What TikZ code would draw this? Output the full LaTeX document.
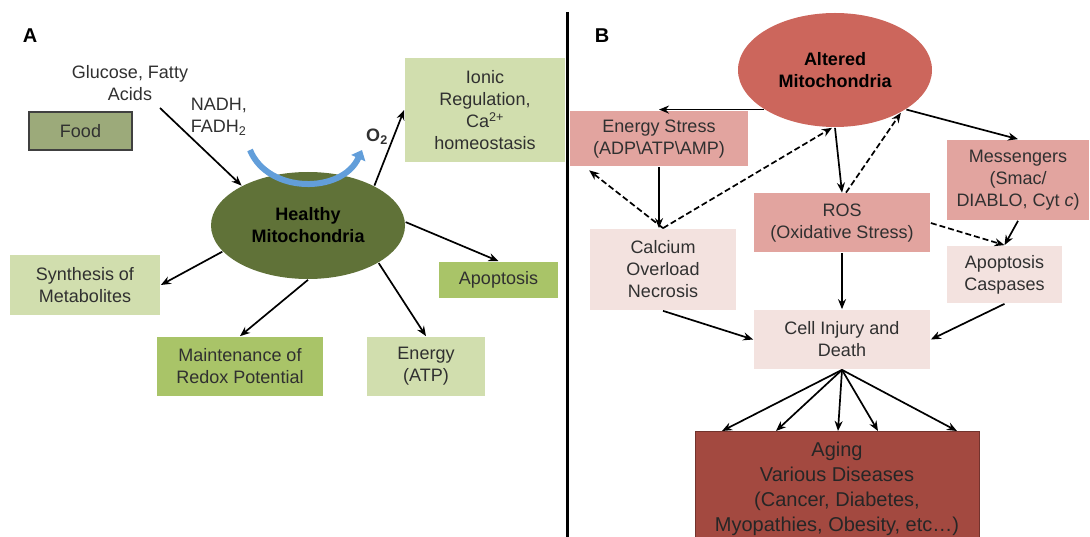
\documentclass[tikz,border=0pt]{standalone}
\usepackage{fontspec}
\setmainfont{Liberation Sans}
\usepackage{tikz}
\usetikzlibrary{calc,arrows.meta,shapes.geometric}
\definecolor{verdeclaro}{RGB}{209,222,174}
\definecolor{verdemedio}{RGB}{169,196,104}
\definecolor{verdecomida}{RGB}{156,170,122}
\definecolor{verdemito}{RGB}{96,114,56}
\definecolor{rojomito}{RGB}{204,102,92}
\definecolor{rosamedio}{RGB}{226,164,159}
\definecolor{rosaclaro}{RGB}{243,226,223}
\definecolor{rojoedad}{RGB}{163,73,64}
\definecolor{azulflecha}{RGB}{98,158,218}
\definecolor{textogris}{RGB}{48,48,48}

\begin{document}
\begin{tikzpicture}[x=1pt, y=-1pt, >={Stealth[length=10pt,width=8pt]}, line width=1.7pt,
    caja/.style={inner sep=0pt, align=center, text=textogris, font=\fontsize{18}{22}\selectfont},
    mito/.style={ellipse, inner sep=0pt, align=center, text=black, font=\fontsize{18}{22}\selectfont\bfseries},
    guion/.style={dash pattern=on 6pt off 3pt}]
    \useasboundingbox (0,0) rectangle (1090,537);
    % panel A
    \node[font=\fontsize{20}{24}\selectfont\bfseries] (letraA) at (30,36) {A};
    \node[caja] (glu) at (130,83) {Glucose, Fatty\\Acids};
    \node[caja, fill=verdecomida, draw=black!75, line width=1.5pt, minimum width=103, minimum height=38] (comida) at (80.5,131) {Food};
    \node[caja, align=left, anchor=west] (nadh) at (190,117) {NADH,\\FADH\textsubscript{2}};
    \node[mito, fill=verdemito, minimum width=194, minimum height=107] (hm) at (308,225.5) {Healthy\\Mitochondria};
    \node[caja, fill=verdeclaro, minimum width=160, minimum height=104] (ion) at (485,110) {Ionic\\Regulation,\\Ca\textsuperscript{2+}\\homeostasis};
    \node[font=\fontsize{18}{22}\selectfont\bfseries, text=textogris] (oxi) at (377,137) {O\textsubscript{2}};
    \node[caja, fill=verdeclaro, minimum width=150, minimum height=60] (syn) at (85,285) {Synthesis of\\Metabolites};
    \node[caja, fill=verdemedio, minimum width=119, minimum height=36] (apo) at (498.5,280) {Apoptosis};
    \node[caja, fill=verdemedio, minimum width=166, minimum height=59] (mnt) at (240,366.5) {Maintenance of\\Redox Potential};
    \node[caja, fill=verdeclaro, minimum width=118, minimum height=59] (en) at (426,366.5) {Energy\\(ATP)};
    \coordinate (gs) at (160,108);
    \draw[->] (gs) -- (hm.149);
    \draw[->] (hm.31) -- (ion.west);
    \draw[->] (hm.2) -- (apo.north);
    \draw[->] (hm.197) -- (syn.east);
    \draw[->] (hm.270) -- (mnt.north);
    \draw[->] (hm.332) -- (en.north);
    \draw[azulflecha, line width=6pt, -{Triangle[length=9pt,width=15pt]}] (250,150) .. controls (268,194) and (342,194) .. (362,150);
    \draw[line width=3pt] (567,12) -- (567,537);
    % panel B
    \node[font=\fontsize{20}{24}\selectfont\bfseries] (letraB) at (602,36) {B};
    \node[mito, fill=rojomito, minimum width=194, minimum height=114] (am) at (835,70) {Altered\\Mitochondria};
    \node[caja, fill=rosamedio, minimum width=178, minimum height=55] (es) at (659,139) {Energy Stress\\(ADP\textbackslash ATP\textbackslash AMP)};
    \node[caja, fill=rosamedio, minimum width=142, minimum height=80] (msg) at (1018,180) {Messengers\\(Smac/\\DIABLO, Cyt \textit{c})};
    \node[caja, fill=rosamedio, minimum width=176, minimum height=59] (ros) at (842,223) {ROS\\(Oxidative Stress)};
    \node[caja, fill=rosaclaro, minimum width=146, minimum height=81] (calc) at (663,269.5) {Calcium\\Overload\\Necrosis};
    \node[caja, fill=rosaclaro, minimum width=115, minimum height=57] (cas) at (1004.5,274.5) {Apoptosis\\Caspases};
    \node[caja, fill=rosaclaro, minimum width=176, minimum height=59] (cell) at (842,339.5) {Cell Injury and\\Death};
    \node[caja, fill=rojoedad, draw=rojoedad!70!black, line width=1pt, minimum width=284, minimum height=115, anchor=north, text=black!85, font=\fontsize{20}{25}\selectfont] (ag) at (837,431) {Aging\\Various Diseases\\(Cancer, Diabetes,\\Myopathies, Obesity, etc…)};
    \draw[->] (am.209) -- (es.north |- am.209);
    \draw[->] (am.331) -- (msg.north);
    \draw[->] (am.south) -- (ros.north);
    \draw[->, guion] ($(ros.north)+(4,0)$) -- (am.327);
    \draw[->] (es.south) -- (es.south |- calc.north);
    \draw[->, guion] (calc.north) -- ($(es.south west)+(20,3)$);
    \draw[->, guion] (calc.north) -- (am.267);
    \draw[->, guion] (ros.east) -- (cas.north);
    \draw[->] (msg.south) -- (cas.north);
    \draw[->] (ros.south) -- (cell.north);
    \draw[->] (calc.south) -- (cell.west);
    \draw[->] (cas.south) -- (cell.east);
    \foreach \dx in {-115,-61,1,41,120} \draw[->] (cell.south) -- ($(ag.north)+(\dx,0)$);
\end{tikzpicture}
\end{document}
